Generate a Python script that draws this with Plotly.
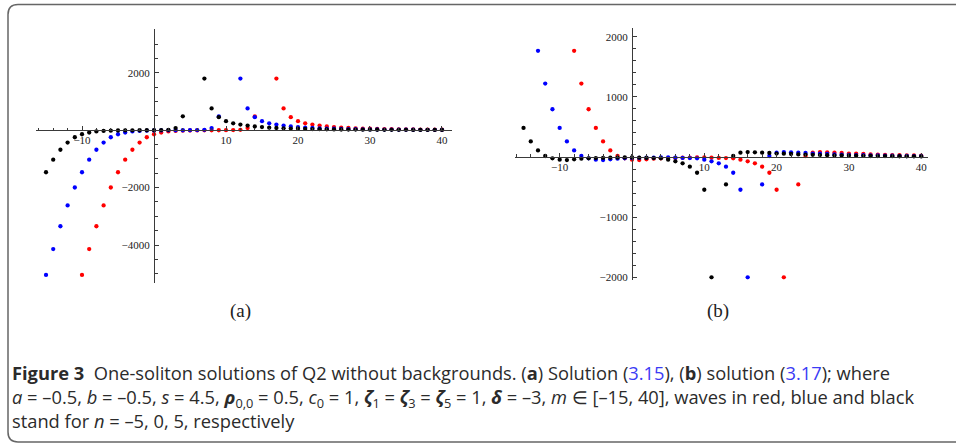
import plotly.graph_objects as go

W, H = 956, 446

# ---------------- data ----------------
m_vals = list(range(-15, 41))

# panel (a): solution (3.15)
a_red = [None, None, None, None, None,
         -5040, -4140, -3345, -2620, -1995, -1465, -1025, -680, -430, -245,
         -140, -80, -42, -25, -15, -10, -6, -4, -2, -1,
         0, 6, 15, 75, 485, None, None, 1800, 760, 455,
         315, 240, 195, 160, 130, 108, 90, 77, 66, 57,
         50, 44, 39, 35, 31, 28, 25, 23, 21, 19, 17]
a_blue = [-5040, -4140, -3345, -2620, -1995, -1465, -1025, -680, -430, -245,
          -140, -80, -42, -25, -15, -10, -6, -4, -2, -1,
          0, 6, 15, 75, 485, None, None, 1800, 760, 455,
          315, 240, 195, 160, 130, 108, 90, 77, 66, 57,
          50, 44, 39, 35, 31, 28, 25, 23, 21, 19,
          17, 16, 15, 14, 13, 12]
a_black = [-1465, -1025, -680, -430, -245, -140, -80, -42, -25, -15,
           -10, -6, -4, -2, -1, 0, 6, 15, 75, 485,
           None, None, 1800, 760, 455, 315, 240, 195, 160, 130,
           108, 90, 77, 66, 57, 50, 44, 39, 35, 31,
           28, 25, 23, 21, 19, 17, 16, 15, 14, 13,
           12, 11, 10, 10, 9, 9]

# panel (b): solution (3.17)
b_red = [None, None, None, None, None, None, None,
         1765, 1221, 794, 483, 260, 110, 17, -22, -44, -50, -39, -28, -22,
         -18, -15, -12, -10, -8, -8, -11, -15, -18, -22,
         -44, -72, -105, -161, -261, -544, -1998, None, -455, 17,
         72, 83, 78, 72, 67, 58, 55, 50, 44, 40,
         36, 33, 30, 27, 25, 23]
b_blue = [None, None,
          1765, 1221, 794, 483, 260, 110, 17, -22, -44, -50, -39, -28, -22,
          -18, -15, -12, -10, -8, -8, -11, -15, -18, -22,
          -44, -72, -105, -161, -261, -544, -1998, None, -455, 17,
          72, 83, 78, 72, 67, 58, 55, 50, 44, 40,
          36, 33, 30, 27, 25, 23, 21, 19, 17, 16, 15]
b_black = [483, 260, 110, 17, -22, -44, -50, -39, -28, -22,
           -18, -15, -12, -10, -8, -8, -11, -15, -18, -22,
           -44, -72, -105, -161, -261, -544, -1998, None, -455, 17,
           72, 83, 78, 72, 67, 58, 55, 50, 44, 40,
           36, 33, 30, 27, 25, 23, 21, 19, 17, 16,
           15, 14, 13, 12, 11, 10]

x_ticks = [-10, 10, 20, 30, 40]
a_y_ticks = [-4000, -2000, 2000]
b_y_ticks = [-2000, -1000, 1000, 2000]

series_colors = ["#ff0000", "#0000ff", "#000000"]  # n = -5, 0, 5

# ---------------- layout geometry (pixels) ----------------
a_x_px = (36, 451.7)
a_y_px = (29.3, 285)
a_xrange = [-16.39, 41.35]
a_yrange = [-5325, 3522]

b_x_px = (515, 928)
b_y_px = (28.3, 281.7)
b_xrange = [-16.18, 40.94]
b_yrange = [-2040, 2142]


def px_dom_x(p):
    return [p[0] / W, p[1] / W]


def px_dom_y(p):
    return [1 - p[1] / H, 1 - p[0] / H]


def zero_pos(dom, rng):
    return dom[0] + (0 - rng[0]) / (rng[1] - rng[0]) * (dom[1] - dom[0])


fig = go.Figure()

for xa, ya, sets in [("x", "y", (a_red, a_blue, a_black)),
                     ("x2", "y2", (b_red, b_blue, b_black))]:
    for vals, col in zip(sets, series_colors):
        fig.add_trace(go.Scatter(
            x=m_vals, y=vals, mode="markers", xaxis=xa, yaxis=ya,
            marker=dict(color=col, size=4.3, line=dict(width=0)),
            showlegend=False, hoverinfo="x+y"))

serif = "Liberation Serif"
tickfont = dict(family=serif, size=11, color="#222")
axis_line = dict(showline=True, linecolor="#3a3a3a", linewidth=1.1, showgrid=False,
                 zeroline=False, ticks="inside", tickcolor="#3a3a3a", tickwidth=1,
                 ticklen=4, tickfont=tickfont, fixedrange=True)


def make_axes(xdom, ydom, xr, yr, yticks, yminor):
    xa = dict(axis_line, domain=xdom, range=xr, anchor="free",
              position=zero_pos(ydom, yr), tickmode="array", tickvals=x_ticks,
              minor=dict(dtick=2, tick0=0, ticks="inside", ticklen=2.5,
                         tickcolor="#3a3a3a", tickwidth=1))
    ya = dict(axis_line, domain=ydom, range=yr, anchor="free",
              position=zero_pos(xdom, xr), tickmode="array", tickvals=yticks,
              ticklabelstandoff=2,
              minor=dict(dtick=yminor, tick0=0, ticks="inside", ticklen=2.5,
                         tickcolor="#3a3a3a", tickwidth=1))
    return xa, ya


a_xd, a_yd = px_dom_x(a_x_px), px_dom_y(a_y_px)
b_xd, b_yd = px_dom_x(b_x_px), px_dom_y(b_y_px)
xa1, ya1 = make_axes(a_xd, a_yd, a_xrange, a_yrange, a_y_ticks, 500)
xa2, ya2 = make_axes(b_xd, b_yd, b_xrange, b_yrange, b_y_ticks, 200)

fig.update_layout(
    width=W, height=H, margin=dict(l=0, r=0, t=0, b=0),
    paper_bgcolor="white", plot_bgcolor="rgba(0,0,0,0)",
    xaxis=xa1, yaxis=ya1, xaxis2=xa2, yaxis2=ya2,
)

# panel labels
for txt, px, py in [("(a)", 240, 313), ("(b)", 718, 313)]:
    fig.add_annotation(text=txt, x=px / W, y=1 - py / H, xref="paper", yref="paper",
                       showarrow=False, xanchor="center", yanchor="middle",
                       font=dict(family=serif, size=19, color="#222"))

# caption (one text block, three lines)
cap_font = dict(family="Open Sans", size=18.3, color="#2b2b2b")
link = "<span style='color:#3b3bf5'>{}</span>"
cap_lines = [
    "<b>Figure 3</b>  One-soliton solutions of Q2 without backgrounds. (<b>a</b>) Solution ("
    + link.format("3.15") + "), (<b>b</b>) solution (" + link.format("3.17") + "); where",
    "<i>a</i> = –0.5, <i>b</i> = –0.5, <i>s</i> = 4.5, <b><i>ρ</i></b><sub>0,0</sub> = 0.5, "
    "<i>c</i><sub>0</sub> = 1, <b><i>ζ</i></b><sub>1</sub> = <b><i>ζ</i></b><sub>3</sub> = "
    "<b><i>ζ</i></b><sub>5</sub> = 1, <b><i>δ</i></b> = –3, <i>m</i> ∈ [–15, 40], "
    "waves in red, blue and black",
    "stand for <i>n</i> = –5, 0, 5, respectively",
]
fig.add_annotation(text="<br>".join(cap_lines), x=9.5 / W, y=1 - 399.5 / H,
                   xref="paper", yref="paper", showarrow=False,
                   xanchor="left", yanchor="middle", align="left", font=cap_font)

# frame with rounded left corners
r = 10
x0, y0, y1, x1 = 8, 4.5, 445, 990
path = (f"M {x1/W},{1-y0/H} L {(x0+r)/W},{1-y0/H} "
        f"Q {x0/W},{1-y0/H} {x0/W},{1-(y0+r)/H} "
        f"L {x0/W},{1-(y1-r)/H} Q {x0/W},{1-y1/H} {(x0+r)/W},{1-y1/H} "
        f"L {x1/W},{1-y1/H}")
fig.add_shape(type="path", path=path, xref="paper", yref="paper",
              line=dict(color="#666", width=1.5))

fig.write_html("out.html", config={"displayModeBar": False},
               post_script="document.body.style.margin='0';")
